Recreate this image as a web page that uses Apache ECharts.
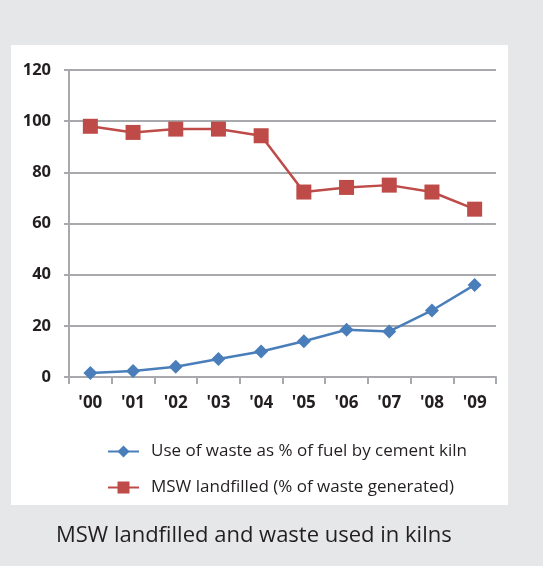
<!DOCTYPE html>
<html>
<head>
<meta charset="utf-8">
<script src="https://cdn.jsdelivr.net/npm/echarts@6/dist/echarts.min.js"></script>
<style>
  html, body { margin: 0; padding: 0; background: #e6e7e8; }
  #chart { width: 543px; height: 566px; }
</style>
</head>
<body>
<div id="chart"></div>
<script>
  var years = ["'00", "'01", "'02", "'03", "'04", "'05", "'06", "'07", "'08", "'09"];
  var wasteFuel = [1.6, 2.3, 4, 7, 10, 14, 18.5, 17.8, 26, 36];
  var mswLandfilled = [98, 95.6, 96.9, 96.9, 94.3, 72.3, 74.1, 75, 72.3, 65.6];
  var yTicks = [0, 20, 40, 60, 80, 100, 120];

  var font = '"Open Sans", "Noto Sans", sans-serif';
  var chart = echarts.init(document.getElementById('chart'));
  chart.setOption({
    backgroundColor: '#e6e7e8',
    animation: false,
    graphic: [
      { type: 'rect', left: 11, top: 45, shape: { width: 497, height: 460 }, style: { fill: '#ffffff' }, z: -10 },
      { type: 'text', left: 56, top: 525, style: { text: 'MSW landfilled and waste used in kilns', font: '22px ' + font, fill: '#231f20' } }
    ],
    grid: { left: 69, right: 47, top: 70, bottom: 189 },
    legend: {
      orient: 'vertical',
      left: 107,
      top: 443,
      padding: 0,
      itemWidth: 31,
      itemHeight: 15,
      itemGap: 19,
      textStyle: { fontFamily: font, fontSize: 17, color: '#231f20', padding: [0, 0, 0, 7] },
      data: ['Use of waste as % of fuel by cement kiln', 'MSW landfilled (% of waste generated)']
    },
    xAxis: {
      type: 'category',
      data: years,
      boundaryGap: true,
      axisLine: { lineStyle: { color: '#a7a9ac', width: 2 } },
      axisTick: { show: true, length: 7, lineStyle: { color: '#a7a9ac', width: 2 } },
      axisLabel: { margin: 18, fontFamily: font, fontSize: 17, fontWeight: 'bold', color: '#231f20' }
    },
    yAxis: {
      type: 'value',
      min: yTicks[0],
      max: yTicks[yTicks.length - 1],
      interval: 20,
      axisLine: { show: true, lineStyle: { color: '#a7a9ac', width: 2 } },
      axisTick: { show: true, length: 5, lineStyle: { color: '#a7a9ac', width: 2 } },
      axisLabel: { margin: 18, fontFamily: font, fontSize: 16.5, fontWeight: 'bold', color: '#231f20' },
      splitLine: { lineStyle: { color: '#a7a9ac', width: 2 } }
    },
    series: [
      {
        name: 'Use of waste as % of fuel by cement kiln',
        type: 'line',
        data: wasteFuel,
        symbol: 'diamond',
        symbolSize: 14,
        itemStyle: { color: '#4a7ebb' },
        lineStyle: { color: '#4a7ebb', width: 2.5 }
      },
      {
        name: 'MSW landfilled (% of waste generated)',
        type: 'line',
        data: mswLandfilled,
        symbol: 'rect',
        symbolSize: 15,
        itemStyle: { color: '#be4b48' },
        lineStyle: { color: '#be4b48', width: 2.5 }
      }
    ]
  });
</script>
</body>
</html>
